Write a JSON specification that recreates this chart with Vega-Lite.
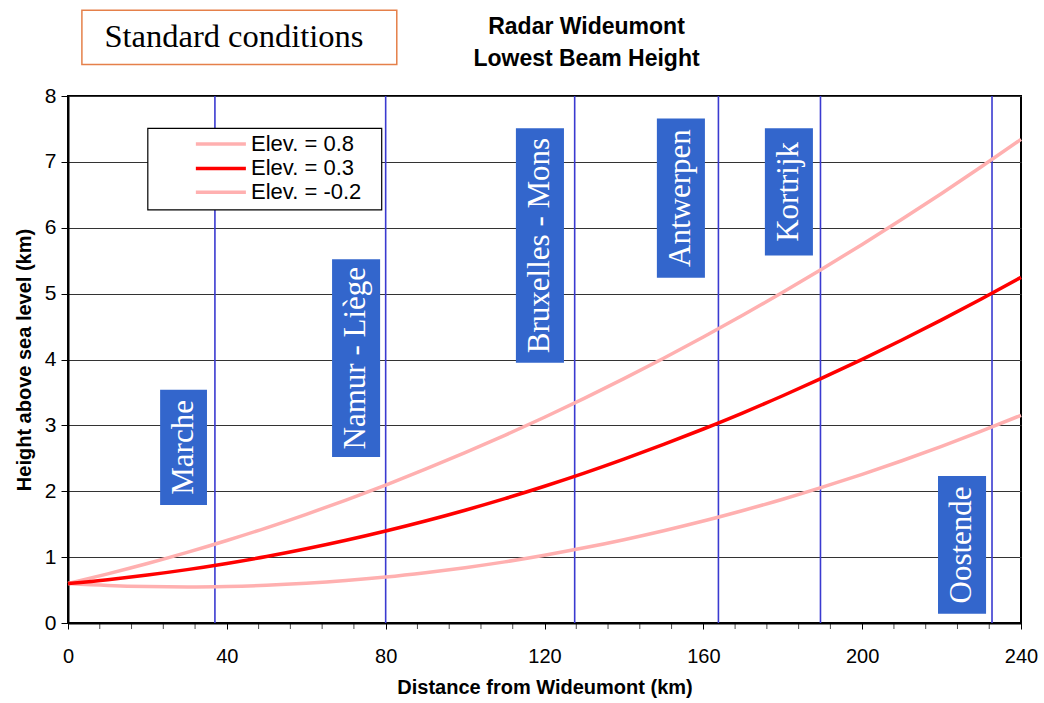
{
  "$schema": "https://vega.github.io/schema/vega-lite/v6.json",
  "width": 953,
  "height": 527,
  "autosize": {"type": "none"},
  "padding": {"left": 68, "top": 96, "right": 23, "bottom": 80},
  "background": "white",
  "title": {
    "text": ["Radar Wideumont", "Lowest Beam Height"],
    "font": "Liberation Sans",
    "fontSize": 23,
    "fontWeight": "bold",
    "color": "black",
    "anchor": "middle",
    "frame": "group",
    "dx": 42,
    "offset": -61,
    "lineHeight": 32
  },
  "config": {
    "view": {"stroke": "black", "strokeWidth": 2},
    "axis": {
      "labelFont": "Liberation Sans",
      "titleFont": "Liberation Sans",
      "labelColor": "black",
      "titleColor": "black",
      "domainColor": "black",
      "domainWidth": 2,
      "tickColor": "black",
      "tickWidth": 1
    },
    "axisX": {"labelOverlap": false}
  },
  "datasets": {
    "beam": [
      {"d": 0, "h": 0.600, "s": "Elev. = 0.8"},
      {"d": 10, "h": 0.746, "s": "Elev. = 0.8"},
      {"d": 20, "h": 0.903, "s": "Elev. = 0.8"},
      {"d": 30, "h": 1.072, "s": "Elev. = 0.8"},
      {"d": 40, "h": 1.253, "s": "Elev. = 0.8"},
      {"d": 50, "h": 1.445, "s": "Elev. = 0.8"},
      {"d": 60, "h": 1.650, "s": "Elev. = 0.8"},
      {"d": 70, "h": 1.866, "s": "Elev. = 0.8"},
      {"d": 80, "h": 2.094, "s": "Elev. = 0.8"},
      {"d": 90, "h": 2.334, "s": "Elev. = 0.8"},
      {"d": 100, "h": 2.585, "s": "Elev. = 0.8"},
      {"d": 110, "h": 2.848, "s": "Elev. = 0.8"},
      {"d": 120, "h": 3.123, "s": "Elev. = 0.8"},
      {"d": 130, "h": 3.410, "s": "Elev. = 0.8"},
      {"d": 140, "h": 3.709, "s": "Elev. = 0.8"},
      {"d": 150, "h": 4.019, "s": "Elev. = 0.8"},
      {"d": 160, "h": 4.341, "s": "Elev. = 0.8"},
      {"d": 170, "h": 4.675, "s": "Elev. = 0.8"},
      {"d": 180, "h": 5.021, "s": "Elev. = 0.8"},
      {"d": 190, "h": 5.378, "s": "Elev. = 0.8"},
      {"d": 200, "h": 5.747, "s": "Elev. = 0.8"},
      {"d": 210, "h": 6.128, "s": "Elev. = 0.8"},
      {"d": 220, "h": 6.521, "s": "Elev. = 0.8"},
      {"d": 230, "h": 6.926, "s": "Elev. = 0.8"},
      {"d": 240, "h": 7.342, "s": "Elev. = 0.8"},
      {"d": 0, "h": 0.600, "s": "Elev. = -0.2"},
      {"d": 10, "h": 0.571, "s": "Elev. = -0.2"},
      {"d": 20, "h": 0.554, "s": "Elev. = -0.2"},
      {"d": 30, "h": 0.548, "s": "Elev. = -0.2"},
      {"d": 40, "h": 0.555, "s": "Elev. = -0.2"},
      {"d": 50, "h": 0.573, "s": "Elev. = -0.2"},
      {"d": 60, "h": 0.603, "s": "Elev. = -0.2"},
      {"d": 70, "h": 0.644, "s": "Elev. = -0.2"},
      {"d": 80, "h": 0.697, "s": "Elev. = -0.2"},
      {"d": 90, "h": 0.763, "s": "Elev. = -0.2"},
      {"d": 100, "h": 0.840, "s": "Elev. = -0.2"},
      {"d": 110, "h": 0.928, "s": "Elev. = -0.2"},
      {"d": 120, "h": 1.029, "s": "Elev. = -0.2"},
      {"d": 130, "h": 1.141, "s": "Elev. = -0.2"},
      {"d": 140, "h": 1.265, "s": "Elev. = -0.2"},
      {"d": 150, "h": 1.401, "s": "Elev. = -0.2"},
      {"d": 160, "h": 1.548, "s": "Elev. = -0.2"},
      {"d": 170, "h": 1.708, "s": "Elev. = -0.2"},
      {"d": 180, "h": 1.879, "s": "Elev. = -0.2"},
      {"d": 190, "h": 2.062, "s": "Elev. = -0.2"},
      {"d": 200, "h": 2.257, "s": "Elev. = -0.2"},
      {"d": 210, "h": 2.463, "s": "Elev. = -0.2"},
      {"d": 220, "h": 2.681, "s": "Elev. = -0.2"},
      {"d": 230, "h": 2.911, "s": "Elev. = -0.2"},
      {"d": 240, "h": 3.153, "s": "Elev. = -0.2"},
      {"d": 0, "h": 0.600, "s": "Elev. = 0.3"},
      {"d": 10, "h": 0.658, "s": "Elev. = 0.3"},
      {"d": 20, "h": 0.728, "s": "Elev. = 0.3"},
      {"d": 30, "h": 0.810, "s": "Elev. = 0.3"},
      {"d": 40, "h": 0.904, "s": "Elev. = 0.3"},
      {"d": 50, "h": 1.009, "s": "Elev. = 0.3"},
      {"d": 60, "h": 1.126, "s": "Elev. = 0.3"},
      {"d": 70, "h": 1.255, "s": "Elev. = 0.3"},
      {"d": 80, "h": 1.396, "s": "Elev. = 0.3"},
      {"d": 90, "h": 1.548, "s": "Elev. = 0.3"},
      {"d": 100, "h": 1.712, "s": "Elev. = 0.3"},
      {"d": 110, "h": 1.888, "s": "Elev. = 0.3"},
      {"d": 120, "h": 2.076, "s": "Elev. = 0.3"},
      {"d": 130, "h": 2.275, "s": "Elev. = 0.3"},
      {"d": 140, "h": 2.487, "s": "Elev. = 0.3"},
      {"d": 150, "h": 2.710, "s": "Elev. = 0.3"},
      {"d": 160, "h": 2.945, "s": "Elev. = 0.3"},
      {"d": 170, "h": 3.191, "s": "Elev. = 0.3"},
      {"d": 180, "h": 3.450, "s": "Elev. = 0.3"},
      {"d": 190, "h": 3.720, "s": "Elev. = 0.3"},
      {"d": 200, "h": 4.002, "s": "Elev. = 0.3"},
      {"d": 210, "h": 4.296, "s": "Elev. = 0.3"},
      {"d": 220, "h": 4.601, "s": "Elev. = 0.3"},
      {"d": 230, "h": 4.918, "s": "Elev. = 0.3"},
      {"d": 240, "h": 5.247, "s": "Elev. = 0.3"}
    ],
    "minor": [
      {"d": 8}, {"d": 16}, {"d": 24}, {"d": 32}, {"d": 48}, {"d": 56}, {"d": 64}, {"d": 72},
      {"d": 88}, {"d": 96}, {"d": 104}, {"d": 112}, {"d": 128}, {"d": 136}, {"d": 144}, {"d": 152},
      {"d": 168}, {"d": 176}, {"d": 184}, {"d": 192}, {"d": 208}, {"d": 216}, {"d": 224}, {"d": 232}
    ],
    "cities": [
      {"name": "Marche", "d": 37.0, "x1": 23.2, "x2": 35.0, "y1": 1.79, "y2": 3.54, "xm": 29.1, "ym": 2.665},
      {"name": "Namur - Liège", "d": 80.0, "x1": 66.5, "x2": 78.6, "y1": 2.52, "y2": 5.52, "xm": 72.55, "ym": 4.02},
      {"name": "Bruxelles - Mons", "d": 127.6, "x1": 112.8, "x2": 124.9, "y1": 3.95, "y2": 7.51, "xm": 118.85, "ym": 5.73},
      {"name": "Antwerpen", "d": 163.8, "x1": 148.3, "x2": 160.4, "y1": 5.24, "y2": 7.66, "xm": 154.35, "ym": 6.45},
      {"name": "Kortrijk", "d": 189.5, "x1": 175.5, "x2": 187.6, "y1": 5.58, "y2": 7.51, "xm": 181.55, "ym": 6.545},
      {"name": "Oostende", "d": 232.7, "x1": 219.1, "x2": 231.2, "y1": 0.14, "y2": 2.23, "xm": 225.15, "ym": 1.185}
    ],
    "legendbox": [{"x1": 20.1, "x2": 79.0, "y1": 6.27, "y2": 7.51}],
    "legend": [
      {"s": "Elev. = 0.8", "x1": 32.2, "x2": 44.8, "y": 7.27, "tx": 46.1},
      {"s": "Elev. = 0.3", "x1": 32.2, "x2": 44.8, "y": 6.90, "tx": 46.1},
      {"s": "Elev. = -0.2", "x1": 32.2, "x2": 44.8, "y": 6.54, "tx": 46.1}
    ],
    "note": [{"label": "Standard conditions", "x1": 3.5, "x2": 82.8, "y1": 8.48, "y2": 9.30, "xm": 41.8, "ym": 8.89}]
  },
  "layer": [
    {
      "data": {"name": "cities"},
      "mark": {"type": "rule", "color": "#3a3ad0", "strokeWidth": 1.6},
      "encoding": {
        "x": {"field": "d", "type": "quantitative", "scale": {"domain": [0, 240], "nice": false},
          "axis": {
            "values": [0, 40, 80, 120, 160, 200, 240],
            "format": "d",
            "labelOverlap": false,
            "grid": false,
            "tickSize": 6,
            "labelFontSize": 20,
            "labelPadding": 17,
            "labelFlush": false,
            "title": "Distance from Wideumont (km)",
            "titleFontSize": 20,
            "titleFontWeight": "bold",
            "titlePadding": 11
          }
        },
        "y": {"datum": 0, "type": "quantitative", "scale": {"domain": [0, 8], "nice": false},
          "axis": {
            "values": [0, 1, 2, 3, 4, 5, 6, 7, 8],
            "format": "d",
            "grid": true,
            "gridColor": "#333333",
            "gridWidth": 1,
            "tickSize": 7,
            "labelFontSize": 21,
            "labelPadding": 5,
            "title": "Height above sea level (km)",
            "titleFontSize": 20,
            "titleFontWeight": "bold",
            "titlePadding": 10
          }
        },
        "y2": {"datum": 8}
      }
    },
    {
      "data": {"name": "minor"},
      "mark": {"type": "tick", "orient": "vertical", "color": "black", "size": 6, "thickness": 1, "yOffset": 3, "clip": false},
      "encoding": {
        "x": {"field": "d", "type": "quantitative"},
        "y": {"datum": 0, "type": "quantitative"}
      }
    },
    {
      "data": {"name": "beam"},
      "mark": {"type": "line", "strokeWidth": 3.5, "interpolate": "monotone"},
      "encoding": {
        "x": {"field": "d", "type": "quantitative"},
        "y": {"field": "h", "type": "quantitative"},
        "detail": {"field": "s"},
        "color": {"field": "s", "type": "nominal",
          "scale": {"domain": ["Elev. = 0.8", "Elev. = -0.2", "Elev. = 0.3"], "range": ["#ffb0b0", "#ffb0b0", "#ff0000"]},
          "legend": null}
      }
    },
    {
      "data": {"name": "cities"},
      "mark": {"type": "rect", "fill": "#3366cc"},
      "encoding": {
        "x": {"field": "x1", "type": "quantitative"},
        "x2": {"field": "x2"},
        "y": {"field": "y1", "type": "quantitative"},
        "y2": {"field": "y2"}
      }
    },
    {
      "data": {"name": "cities"},
      "mark": {"type": "text", "angle": 270, "align": "center", "baseline": "middle", "font": "Liberation Serif", "fontSize": 31, "color": "white"},
      "encoding": {
        "x": {"field": "xm", "type": "quantitative"},
        "y": {"field": "ym", "type": "quantitative"},
        "text": {"field": "name"}
      }
    },
    {
      "data": {"name": "legendbox"},
      "mark": {"type": "rect", "fill": "white", "stroke": "black", "strokeWidth": 1.2},
      "encoding": {
        "x": {"field": "x1", "type": "quantitative"},
        "x2": {"field": "x2"},
        "y": {"field": "y1", "type": "quantitative"},
        "y2": {"field": "y2"}
      }
    },
    {
      "data": {"name": "legend"},
      "mark": {"type": "rule", "strokeWidth": 3.5},
      "encoding": {
        "x": {"field": "x1", "type": "quantitative"},
        "x2": {"field": "x2"},
        "y": {"field": "y", "type": "quantitative"},
        "color": {"field": "s", "type": "nominal", "legend": null}
      }
    },
    {
      "data": {"name": "legend"},
      "mark": {"type": "text", "align": "left", "baseline": "middle", "font": "Liberation Sans", "fontSize": 22, "color": "black"},
      "encoding": {
        "x": {"field": "tx", "type": "quantitative"},
        "y": {"field": "y", "type": "quantitative"},
        "text": {"field": "s"}
      }
    },
    {
      "data": {"name": "note"},
      "mark": {"type": "rect", "fill": "white", "stroke": "#e5804a", "strokeWidth": 1.5},
      "encoding": {
        "x": {"field": "x1", "type": "quantitative"},
        "x2": {"field": "x2"},
        "y": {"field": "y1", "type": "quantitative"},
        "y2": {"field": "y2"}
      }
    },
    {
      "data": {"name": "note"},
      "mark": {"type": "text", "align": "center", "baseline": "middle", "font": "Liberation Serif", "fontSize": 32.5, "color": "black"},
      "encoding": {
        "x": {"field": "xm", "type": "quantitative"},
        "y": {"field": "ym", "type": "quantitative"},
        "text": {"field": "label"}
      }
    }
  ]
}
